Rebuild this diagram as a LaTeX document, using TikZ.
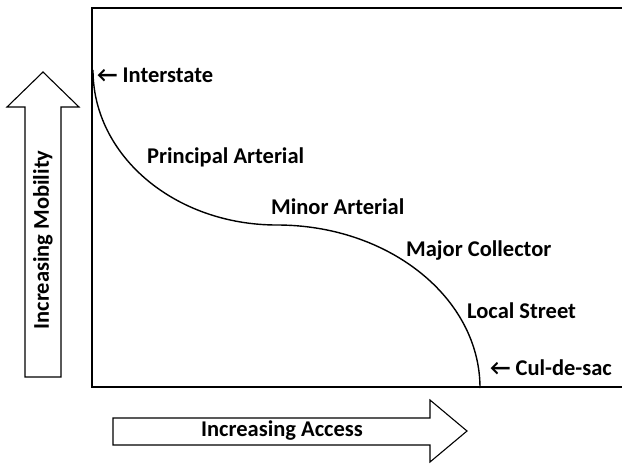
\documentclass[tikz,border=0pt]{standalone}
\usepackage{fontspec}
\setmainfont{Carlito}
\usepackage{tikz}
\usetikzlibrary{positioning, calc}
\tikzset{
  axis line/.style={line width=1.8pt, black},
  road curve/.style={line width=1.4pt, black},
  block arrow/.style={draw, line width=1.1pt, fill=white, line join=miter},
  road label/.style={font=\fontsize{22.5}{24}\selectfont\bfseries, inner sep=0pt, anchor=west},
  arrow label/.style={font=\fontsize{22.5}{24}\selectfont\bfseries, inner sep=0pt}
}

\begin{document}
\begin{tikzpicture}[x=1pt, y=-1pt]
  \useasboundingbox (0,0) rectangle (622,472);

  % ====== AXES ======
  \coordinate (tr) at (622, 8);
  \coordinate (tl) at (92, 8);
  \coordinate (bl) at (92, 387);
  \coordinate (br) at (622, 387);
  \draw[axis line] (tr) -- (tl) -- (bl) -- (br);

  % ====== MOBILITY ARROW ======
  \draw[block arrow] (25, 377) -- (61, 377) -- (61, 107) -- (79, 107) -- (43, 72)
    -- (7, 107) -- (25, 107) -- cycle;
  \node[arrow label, rotate=90] (mobility) at (43, 240) {Increasing Mobility};

  % ====== ACCESS ARROW ======
  \draw[block arrow] (113, 418) -- (430, 418) -- (430, 400) -- (467, 431) -- (430, 462)
    -- (430, 445) -- (113, 445) -- cycle;
  \node[arrow label] (access) at (282, 431) {Increasing Access};

  % ====== ROAD HIERARCHY CURVE ======
  \coordinate (start) at (93, 70);
  \coordinate (mid) at (277, 225);
  \coordinate (stop) at (480, 388);
  \draw[road curve] (start) .. controls (93, 156) and (175, 225) .. (mid)
    .. controls (389, 225) and (480, 298) .. (stop);

  % ====== LABELS ======
  \node[road label] (interstate) at (97, 75) {← Interstate};
  \node[road label] (principal) at (147, 157) {Principal Arterial};
  \node[road label] (minor) at (271, 207) {Minor Arterial};
  \node[road label] (major) at (406, 251) {Major Collector};
  \node[road label] (local) at (467, 311) {Local Street};
  \node[road label] (culdesac) at (490, 368) {← Cul-de-sac};
\end{tikzpicture}
\end{document}
